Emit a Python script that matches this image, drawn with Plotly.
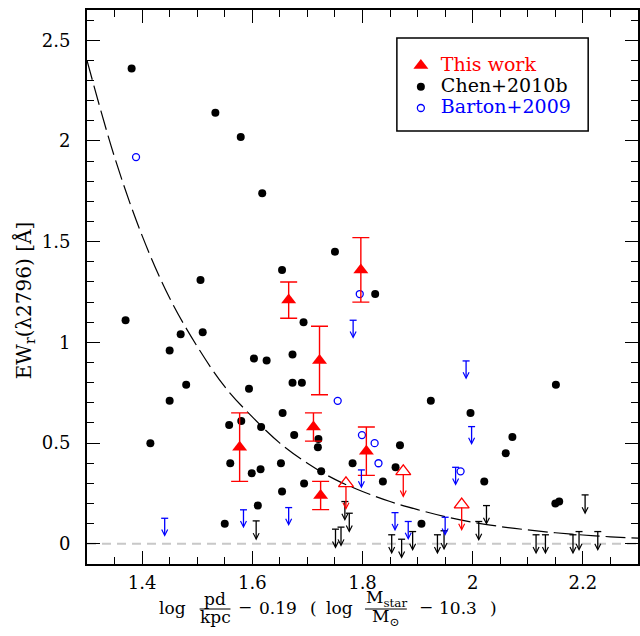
import plotly.graph_objects as go

# ---------------- data ----------------
# Chen+2010b detections
chen_x = [1.381, 1.370, 1.533, 1.579, 1.618, 1.506, 1.470, 1.510, 1.450, 1.480, 1.450, 1.415,
          1.654, 1.750, 1.823, 1.693, 1.603, 1.626, 1.673, 1.673, 1.690, 1.594, 1.655, 1.558,
          1.580, 1.616, 1.676, 1.720, 1.719, 1.560, 1.599, 1.615, 1.652, 1.654, 1.694, 1.725,
          1.782, 1.550, 1.610, 1.868, 1.860, 1.837, 1.924, 1.996, 2.151, 2.072, 2.060, 2.021,
          2.150, 2.157, 1.907]
chen_y = [2.36, 1.11, 2.14, 2.02, 1.74, 1.31, 1.04, 1.05, 0.96, 0.79, 0.71, 0.50,
          1.36, 1.45, 1.24, 1.10, 0.92, 0.91, 0.94, 0.80, 0.80, 0.77, 0.65, 0.59,
          0.61, 0.58, 0.54, 0.52, 0.48, 0.40, 0.35, 0.37, 0.40, 0.26, 0.30, 0.36,
          0.40, 0.10, 0.19, 0.49, 0.38, 0.31, 0.71, 0.65, 0.79, 0.53, 0.45, 0.31,
          0.20, 0.21, 0.10]

# Chen+2010b upper limits
chen_lim_x = [1.607, 1.751, 1.761, 1.768, 1.776, 1.853, 1.871, 1.891, 1.936, 1.948,
              2.011, 2.025, 2.115, 2.132, 2.182, 2.193, 2.204, 2.227]
chen_lim_y = [0.114, 0.073, 0.083, 0.21, 0.152, 0.045, 0.023, 0.061, 0.045, 0.065,
              0.111, 0.19, 0.045, 0.045, 0.045, 0.061, 0.243, 0.061]

# Barton+2009 detections
barton_x = [1.389, 1.795, 1.755, 1.799, 1.822, 1.829, 1.978]
barton_y = [1.92, 1.24, 0.71, 0.54, 0.50, 0.40, 0.36]

# Barton+2009 upper limits
barton_lim_x = [1.441, 1.584, 1.666, 1.783, 1.798, 1.859, 1.883, 1.950, 1.969, 1.988, 1.998]
barton_lim_y = [0.127, 0.169, 0.18, 1.11, 0.367, 0.155, 0.111, 0.132, 0.38, 0.908, 0.582]

# This work detections
tw_x = [1.577, 1.666, 1.711, 1.722, 1.724, 1.797, 1.807]
tw_y = [0.48, 1.21, 0.58, 0.91, 0.24, 1.36, 0.46]
tw_err = [0.17, 0.09, 0.07, 0.17, 0.07, 0.16, 0.12]

# This work upper limits
tw_lim_x = [1.770, 1.874, 1.980]
tw_lim_y = [0.30, 0.36, 0.195]

# dashed fit curve
fit_x = [1.30, 1.35, 1.40, 1.45, 1.50, 1.55, 1.60, 1.65, 1.70, 1.75, 1.80,
         1.85, 1.90, 1.95, 2.00, 2.05, 2.10, 2.15, 2.20, 2.25, 2.30]
fit_y = [2.40, 1.92, 1.53, 1.22, 0.98, 0.78, 0.63, 0.50, 0.40, 0.32, 0.26,
         0.21, 0.17, 0.135, 0.107, 0.086, 0.069, 0.055, 0.044, 0.035, 0.028]

# axes ticks
x_tickvals = [1.4, 1.6, 1.8, 2.0, 2.2]
x_ticktext = ["1.4", "1.6", "1.8", "2", "2.2"]
y_tickvals = [0, 0.5, 1, 1.5, 2, 2.5]
y_ticktext = ["0", "0.5", "1", "1.5", "2", "2.5"]

RED = "#ff0000"
BLUE = "#0000ff"
BLACK = "#000000"
FONT = "DejaVu Serif"

fig = go.Figure()

# dashed fit curve
fig.add_trace(go.Scatter(
    x=fit_x, y=fit_y, mode="lines", line=dict(color=BLACK, width=1.2, dash="20px,6px", shape="spline"),
    showlegend=False, hoverinfo="skip"))

# caps of upper limits
fig.add_trace(go.Scatter(
    x=chen_lim_x, y=chen_lim_y, mode="markers",
    marker=dict(symbol="line-ew", size=5, line=dict(color=BLACK, width=1.3)),
    showlegend=False))
fig.add_trace(go.Scatter(
    x=barton_lim_x, y=barton_lim_y, mode="markers",
    marker=dict(symbol="line-ew", size=5, line=dict(color=BLUE, width=1.3)),
    showlegend=False))

# detections
fig.add_trace(go.Scatter(
    x=chen_x, y=chen_y, mode="markers", name='<span style="font-size:19px;color:#000000">Chen+2010b</span>',
    marker=dict(symbol="circle", size=8, color=BLACK), legendrank=2))
fig.add_trace(go.Scatter(
    x=barton_x, y=barton_y, mode="markers", name='<span style="font-size:19px;color:#0000ff">Barton+2009</span>',
    marker=dict(symbol="circle-open", size=7, color=BLUE, line=dict(width=1.3, color=BLUE)), legendrank=3))
fig.add_trace(go.Scatter(
    x=tw_x, y=tw_y, mode="markers", name='<span style="font-size:19px;color:#ff0000">This work</span>',
    marker=dict(symbol="triangle-up", size=13, color=RED),
    error_y=dict(type="data", array=tw_err, symmetric=True, color=RED, thickness=1.4, width=8.5),
    legendrank=1))
fig.add_trace(go.Scatter(
    x=tw_lim_x, y=tw_lim_y, mode="markers",
    marker=dict(symbol="triangle-up-open", size=13, color=RED, line=dict(width=1.3, color=RED)),
    showlegend=False))

annotations = []


def add_arrows(xs, ys, color, length, standoff):
    for xv, yv in zip(xs, ys):
        annotations.append(dict(
            x=xv, y=yv, xref="x", yref="y", text="", showarrow=True,
            ax=0, ay=length, arrowside="start", arrowhead=0, startarrowhead=5,
            startarrowsize=0.9, arrowwidth=1.3, arrowcolor=color,
            standoff=standoff, startstandoff=0))


add_arrows(chen_lim_x, chen_lim_y, BLACK, 21, 0)
add_arrows(barton_lim_x, barton_lim_y, BLUE, 20, 0)
add_arrows(tw_lim_x, tw_lim_y, RED, 28, 3)

# ---- layout helpers (pixel -> paper) ----
L, T, W, H = 87, 10, 553, 554


def px(xp):
    return (xp - L) / W


def py(yp):
    return (T + H - yp) / H


# x-axis title built from pieces
title_pieces = [
    ("log", 173, 607.5),
    ("pd", 215.5, 599),
    ("kpc", 215.5, 617),
    ("−", 245.5, 607),
    ("0.19", 278.5, 607.5),
    ("(", 314, 607.5),
    ("log", 340.5, 607.5),
    ("M<sub>star</sub>", 387.5, 598),
    ("M<sub>⊙</sub>", 386.5, 617),
    ("−", 427, 607),
    ("10.3", 459, 607.5),
    (")", 495, 607.5),
]
for txt, xp, yp in title_pieces:
    annotations.append(dict(
        x=px(xp), y=py(yp), xref="paper", yref="paper", text=txt, showarrow=False,
        xanchor="center", yanchor="middle", font=dict(family=FONT, size=17, color=BLACK)))

# y-axis title
annotations.append(dict(
    x=px(24), y=py(301), xref="paper", yref="paper", text="EW<sub>r</sub>(λ2796) [Å]",
    showarrow=False, textangle=-90, xanchor="center", yanchor="middle",
    font=dict(family=FONT, size=20, color=BLACK)))

shapes = [
    # zero line
    dict(type="line", xref="paper", yref="y", x0=0, x1=1, y0=0, y1=0,
         line=dict(color="#c8c8c8", width=2, dash="9px,6px"), layer="below"),
    # fraction bars
    dict(type="line", xref="paper", yref="paper", x0=px(200), x1=px(231), y0=py(609), y1=py(609),
         line=dict(color=BLACK, width=1)),
    dict(type="line", xref="paper", yref="paper", x0=px(366), x1=px(408), y0=py(609), y1=py(609),
         line=dict(color=BLACK, width=1)),
    # legend box
    dict(type="rect", xref="paper", yref="paper", x0=px(398), x1=px(590), y0=py(131), y1=py(38),
         line=dict(color=BLACK, width=1.5), fillcolor="rgba(0,0,0,0)"),
]

axis_common = dict(
    showline=True, linecolor=BLACK, linewidth=2, mirror="allticks",
    ticks="inside", ticklen=13, tickwidth=1.3, tickcolor=BLACK,
    showgrid=False, zeroline=False,
    tickfont=dict(family=FONT, size=18, color=BLACK),
)

fig.update_layout(
    width=640, height=636,
    margin=dict(l=L, r=640 - L - W, t=T, b=636 - T - H),
    paper_bgcolor="white", plot_bgcolor="white",
    xaxis=dict(range=[1.3, 2.3], tickvals=x_tickvals, ticktext=x_ticktext,
               minor=dict(dtick=0.05, tick0=1.3, ticks="inside", ticklen=7, tickwidth=1.3, tickcolor=BLACK, showgrid=False),
               ticklabelstandoff=1, **axis_common),
    yaxis=dict(range=[-0.1, 2.65], tickvals=y_tickvals, ticktext=y_ticktext,
               minor=dict(dtick=0.1, tick0=0, ticks="inside", ticklen=7, tickwidth=1.3, tickcolor=BLACK, showgrid=False),
               ticklabelstandoff=11, **axis_common),
    showlegend=True,
    legend=dict(x=px(402), y=py(50), xanchor="left", yanchor="top",
                bgcolor="rgba(0,0,0,0)", borderwidth=0,
                font=dict(family=FONT, size=14, color=BLACK), tracegroupgap=0),
    annotations=annotations,
    shapes=shapes,
)

fig.write_html("out.html", config={"displayModeBar": False},
               post_script="document.body.style.margin='0px';document.body.style.overflow='hidden';")
